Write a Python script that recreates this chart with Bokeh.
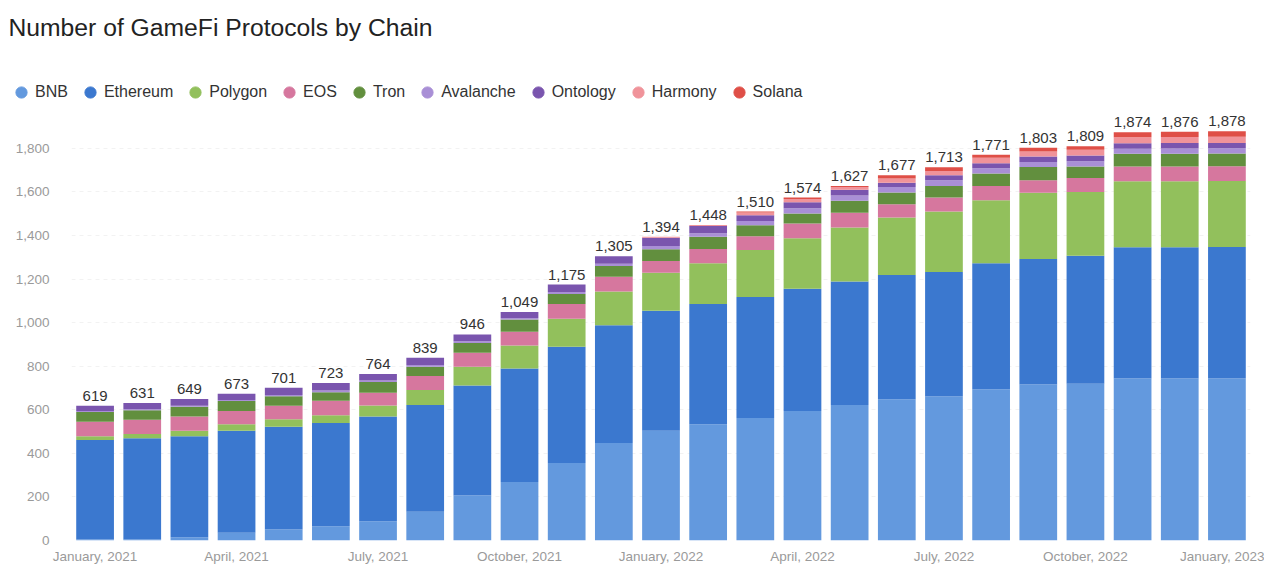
from bokeh.plotting import figure
from bokeh.layouts import column
from bokeh.models import (ColumnDataSource, Legend, LegendItem, FixedTicker,
                          NumeralTickFormatter, Range1d, Label)
from bokeh.core.properties import value
from bokeh.embed import file_html
from bokeh.resources import INLINE

months = ["January, 2021", "February, 2021", "March, 2021", "April, 2021",
          "May, 2021", "June, 2021", "July, 2021", "August, 2021",
          "September, 2021", "October, 2021", "November, 2021", "December, 2021",
          "January, 2022", "February, 2022", "March, 2022", "April, 2022",
          "May, 2022", "June, 2022", "July, 2022", "August, 2022",
          "September, 2022", "October, 2022", "November, 2022", "December, 2022",
          "January, 2023"]

series = ["BNB", "Ethereum", "Polygon", "EOS", "Tron", "Avalanche",
          "Ontology", "Harmony", "Solana"]

bnb = [5, 5, 15, 35, 50, 65, 88, 132, 207, 268, 356, 447, 504, 534, 562, 594,
       622, 648, 661, 694, 716, 720, 743, 743, 744]
ethereum = [456, 464, 463, 469, 472, 474, 481, 490, 505, 521, 533, 541, 550,
            551, 556, 561, 567, 571, 571, 578, 576, 587, 603, 603, 603]
polygon = [17, 20, 26, 30, 35, 36, 51, 69, 86, 106, 129, 155, 175, 188, 215,
           232, 248, 264, 278, 290, 304, 293, 303, 303, 303]
eos = [67, 65, 65, 60, 61, 67, 58, 64, 64, 63, 67, 68, 54, 65, 64, 68, 67, 60,
       64, 65, 57, 64, 68, 68, 68]
tron = [45, 44, 45, 46, 44, 38, 50, 43, 45, 56, 46, 49, 54, 56, 50, 46, 55, 54,
        53, 57, 61, 53, 58, 58, 58]
avalanche = [4, 4, 5, 5, 6, 8, 6, 8, 8, 6, 10, 10, 15, 16, 20, 24, 25, 25, 26,
             25, 23, 24, 23, 24, 24]
ontology = [25, 29, 30, 28, 33, 35, 30, 33, 31, 29, 34, 35, 38, 33, 26, 28, 26,
            20, 23, 23, 26, 26, 25, 25, 25]
harmony = [0, 0, 0, 0, 0, 0, 0, 0, 0, 0, 0, 0, 4, 5, 12, 14, 12, 19, 20, 25,
           22, 26, 28, 28, 28]
solana = [0, 0, 0, 0, 0, 0, 0, 0, 0, 0, 0, 0, 0, 0, 5, 7, 5, 16, 17, 14, 18,
          16, 23, 24, 25]

totals = [619, 631, 649, 673, 701, 723, 764, 839, 946, 1049, 1175, 1305, 1394,
          1448, 1510, 1574, 1627, 1677, 1713, 1771, 1803, 1809, 1874, 1876, 1878]

tick_months = [0, 3, 6, 9, 12, 15, 18, 21, 24]
y_ticks = [0, 200, 400, 600, 800, 1000, 1200, 1400, 1600, 1800]

colors = ["#6399de", "#3b78cf", "#92c05c", "#d6779e", "#628f3e", "#a98fd6",
          "#7a55ae", "#f0939a", "#df4f47"]

FONT = "Liberation Sans"

# ---------- header figure: title + legend ----------
head = figure(width=1264, height=106, output_backend="svg",
              toolbar_location=None, x_range=Range1d(0, 1), y_range=Range1d(0, 1),
              x_axis_location=None, y_axis_location=None,
              min_border_left=0, min_border_right=0, min_border_top=0,
              min_border_bottom=0)
head.frame_align = False
head.outline_line_color = None
head.grid.grid_line_color = None

head.add_layout(Label(x=8, y=79, x_units="screen", y_units="screen",
                      text="Number of GameFi Protocols by Chain",
                      text_font=FONT, text_font_size="24.7px",
                      text_color="#222222", text_baseline="middle"))

items = []
for name, c in zip(series, colors):
    # legend-only markers, placed outside the visible range
    r = head.scatter(x=[5], y=[5], marker="circle", size=11, color=c)
    items.append(LegendItem(label=name, renderers=[r]))
legend = Legend(items=items, orientation="horizontal", location=(7, 0),
                glyph_width=28, glyph_height=28, label_standoff=0, spacing=8,
                padding=0, margin=0, border_line_color=None,
                background_fill_alpha=0, label_text_font=FONT,
                label_text_font_size="16px", label_text_color="#333333")
head.add_layout(legend, "center")

# ---------- main chart ----------
xs = list(range(len(months)))
data = dict(x=xs, total=totals, label=[f"{t:,}" for t in totals])
for name, vals in zip(series, [bnb, ethereum, polygon, eos, tron, avalanche,
                               ontology, harmony, solana]):
    data[name] = vals
source = ColumnDataSource(data)

p = figure(width=1264, height=460, output_backend="svg", toolbar_location=None,
           x_range=Range1d(-0.5, len(months) - 0.5), y_range=Range1d(0, 1992),
           min_border_left=71, min_border_right=14, min_border_top=0,
           min_border_bottom=24)
p.frame_align = False
p.outline_line_color = None
p.background_fill_color = "white"

p.vbar_stack(series, x="x", width=0.8, color=colors, line_color=None,
             source=source)

p.text(x="x", y="total", text="label", source=source, text_align="center",
       text_baseline="bottom", y_offset=-5, text_color="#333333",
       text_font=value(FONT), text_font_size=value("15px"))

p.xaxis.ticker = FixedTicker(ticks=tick_months)
p.xaxis.major_label_overrides = {i: months[i] for i in tick_months}
p.yaxis.ticker = FixedTicker(ticks=y_ticks)
p.yaxis.formatter = NumeralTickFormatter(format="0,0")
for ax in (p.xaxis[0], p.yaxis[0]):
    ax.axis_line_color = None
    ax.major_tick_line_color = None
    ax.minor_tick_line_color = None
    ax.major_tick_out = 0
    ax.major_tick_in = 0
    ax.major_label_text_font = FONT
    ax.major_label_text_font_size = "13.5px"
    ax.major_label_text_color = "#9a9a9a"
p.xaxis.major_label_standoff = 8
p.yaxis.major_label_standoff = 22
p.xgrid.grid_line_color = None
p.ygrid.grid_line_color = "#f2f2f2"
p.ygrid.grid_line_dash = "4 4"

layout = column(head, p, spacing=0)
open("out.html", "w").write(file_html(layout, INLINE))
